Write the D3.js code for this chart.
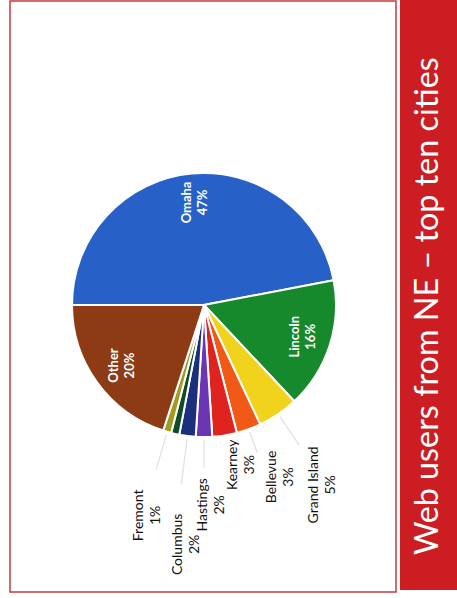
<!DOCTYPE html>
<html>
<head>
<meta charset="utf-8">
<script src="https://cdn.jsdelivr.net/npm/d3@7"></script>
<style>
	body { margin: 0; background: #fff; }
	svg { display: block; }
	text { font-family: Lato, "Open Sans", sans-serif; }
</style>
</head>
<body>
<div id="chart"></div>
<script>

// data
const cities = ["Omaha", "Lincoln", "Grand Island", "Bellevue", "Kearney", "Hastings", "Columbus", "", "Fremont", "Other"]
const shares = [47, 16, 5, 3, 3, 2, 2, 1, 1, 20]
const colors = ["#2761c8", "#15892b", "#f1d21c", "#f05a16", "#df2420", "#6b36b4", "#1b2f7c", "#0f4b24", "#a19b22", "#8c3b14"]
const title = "Web users from NE \u2013 top ten cities"

// names drawn inside the pie
const inside = ["Omaha", "Lincoln", "Other"]

// outside label placement: [radius, angle shift in degrees]
const labelPlace = {
	"Grand Island": [215, 1],
	"Bellevue": [188, -4],
	"Kearney": [164, -4],
	"Hastings": [200, -2],
	"Columbus": [240, -3],
	"Fremont": [218, -1]
}

const width = 457, height = 598
// slide is scanned turned on its side, so draw it upright and rotate
const slide_w = 598, slide_h = 457
const cx = 293, cy = 204, radius = 132

var svg = d3.select("#chart").append("svg")
	.attr("width", width)
	.attr("height", height)

var slide = svg.append("g")
	.attr("transform", "translate(0," + height + ") rotate(-90)")

// thin red frame round the content area
slide.append("rect")
	.attr("x", 6)
	.attr("y", 10)
	.attr("width", 591)
	.attr("height", 386)
	.attr("fill", "none")
	.attr("stroke", "#c9383d")
	.attr("stroke-width", 1.5)

// title band
slide.append("rect")
	.attr("x", 8)
	.attr("y", 400)
	.attr("width", slide_w - 8)
	.attr("height", slide_h - 400)
	.attr("fill", "#cc1d22")

var titleText = slide.append("text")
	.attr("x", 43)
	.attr("y", 438)
	.attr("fill", "#fff")
	.style("font-size", "27px")
	.text(title)
// fit the title to the width it has on the scan
var tl = titleText.node().getComputedTextLength()
titleText.style("font-size", (27 * 498 / tl) + "px")

var pie = d3.pie().sort(null).value(d => d.share)
var arc = d3.arc().innerRadius(0).outerRadius(radius)
var labelArc = d3.arc().innerRadius(103).outerRadius(103)

var data = cities.map((c, i) => ({ city: c, share: shares[i], color: colors[i] }))
var arcs = pie(data)

var pieG = slide.append("g")
	.attr("transform", "translate(" + cx + "," + cy + ")")

pieG.selectAll("path.slice")
	.data(arcs)
	.enter()
	.append("path")
		.attr("class", "slice")
		.attr("d", arc)
		.attr("fill", d => d.data.color)
		.attr("stroke", "#fff")
		.attr("stroke-width", 2)

// labels inside the big slices
var inner = pieG.selectAll("g.inner")
	.data(arcs.filter(d => inside.includes(d.data.city)))
	.enter()
	.append("g")
		.attr("class", "inner")
		.attr("transform", d => "translate(" + labelArc.centroid(d) + ")")

inner.append("text")
	.attr("text-anchor", "middle")
	.attr("y", -3)
	.attr("fill", "#fff")
	.style("font-size", "13px")
	.style("font-weight", "bold")
	.text(d => d.data.city)
inner.append("text")
	.attr("text-anchor", "middle")
	.attr("y", 13)
	.attr("fill", "#fff")
	.style("font-size", "13px")
	.style("font-weight", "bold")
	.text(d => d.data.share + "%")

// outside labels with faint leader lines
const mid = d => (d.startAngle + d.endAngle) / 2
const polar = (r, a) => [r * Math.sin(a), -r * Math.cos(a)]
const leaderEnd = d => radius + 0.45 * (labelPlace[d.data.city][0] - radius)

var outer = arcs.filter(d => labelPlace[d.data.city])

pieG.selectAll("line.leader")
	.data(outer.filter(d => labelPlace[d.data.city][0] - radius > 40))
	.enter()
	.append("line")
		.attr("class", "leader")
		.attr("x1", d => polar(radius + 3, mid(d))[0])
		.attr("y1", d => polar(radius + 3, mid(d))[1])
		.attr("x2", d => polar(leaderEnd(d), mid(d))[0])
		.attr("y2", d => polar(leaderEnd(d), mid(d))[1])
		.attr("stroke", "#e0e0e0")
		.attr("stroke-width", 1.2)

var outLab = pieG.selectAll("g.outer")
	.data(outer)
	.enter()
	.append("g")
		.attr("class", "outer")
		.attr("transform", d => {
			var p = labelPlace[d.data.city]
			return "translate(" + polar(p[0], mid(d) + p[1] * Math.PI / 180) + ")"
		})

outLab.append("text")
	.attr("text-anchor", "middle")
	.attr("y", -4)
	.attr("fill", "#111")
	.style("font-size", "14px")
	.text(d => d.data.city)
outLab.append("text")
	.attr("text-anchor", "middle")
	.attr("y", 13)
	.attr("fill", "#111")
	.style("font-size", "14px")
	.text(d => d.data.share + "%")

</script>
</body>
</html>
